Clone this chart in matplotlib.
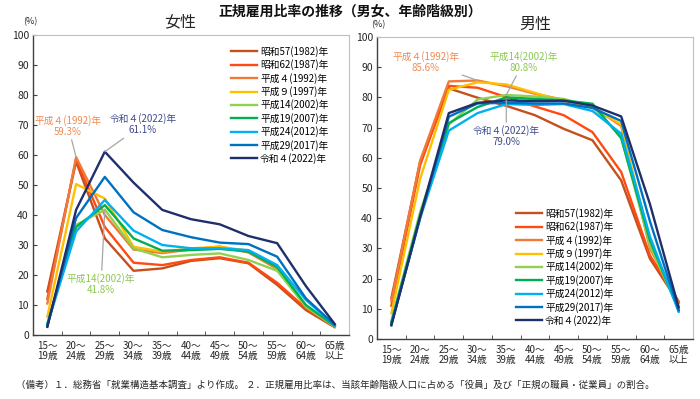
import matplotlib
matplotlib.use("Agg")
import matplotlib.pyplot as plt
import numpy as np

plt.rcParams["font.family"] = ["Noto Sans CJK JP", "DejaVu Sans"]

# ── Data ────────────────────────────────────────────────────────────────────
age_labels = ["15～\n19歳", "20～\n24歳", "25～\n29歳", "30～\n34歳", "35～\n39歳",
              "40～\n44歳", "45～\n49歳", "50～\n54歳", "55～\n59歳", "60～\n64歳",
              "65歳\n以上"]

years = ["昭和57(1982)年", "昭和62(1987)年", "平成４(1992)年", "平成９(1997)年",
         "平成14(2002)年", "平成19(2007)年", "平成24(2012)年", "平成29(2017)年",
         "令和４(2022)年"]

colors = ["#C5501C", "#FF4A12", "#F07A3A", "#FFC000", "#92D050",
          "#00B050", "#00B0F0", "#0070C0", "#1F2F6B"]

women = [
    [14.5, 57.8, 32.2, 21.4, 22.2, 24.7, 25.6, 23.9, 16.7, 8.3, 2.6],   # 1982
    [12.0, 58.6, 36.0, 24.1, 23.3, 25.0, 25.9, 24.1, 17.4, 8.9, 2.8],   # 1987
    [10.5, 59.3, 40.0, 28.5, 27.3, 28.5, 29.5, 27.5, 22.0, 9.5, 3.0],   # 1992
    [6.1, 50.3, 45.5, 29.4, 27.8, 28.9, 29.4, 28.1, 22.5, 9.7, 2.9],    # 1997
    [3.5, 36.7, 41.8, 28.9, 25.9, 26.7, 27.2, 25.0, 21.4, 9.4, 2.8],    # 2002
    [3.8, 36.0, 43.3, 32.2, 28.1, 28.3, 28.7, 27.8, 22.6, 10.0, 3.0],   # 2007
    [3.5, 34.5, 45.0, 34.8, 30.0, 28.9, 28.9, 28.3, 23.3, 11.7, 3.2],   # 2012
    [3.0, 39.0, 52.7, 40.9, 35.0, 32.6, 30.8, 30.3, 26.1, 12.2, 3.4],   # 2017
    [2.7, 41.7, 61.1, 50.8, 41.7, 38.6, 36.9, 33.0, 30.6, 16.3, 3.7],   # 2022
]

men = [
    [13.5, 58.6, 83.0, 79.9, 77.2, 74.1, 69.6, 65.8, 52.5, 26.6, 12.0],  # 1982
    [11.0, 57.5, 83.8, 83.2, 80.1, 77.0, 74.1, 68.5, 55.3, 27.7, 12.5],  # 1987
    [12.5, 59.0, 85.3, 85.6, 83.7, 81.2, 79.2, 77.0, 70.5, 30.0, 12.0],  # 1992
    [8.5, 53.0, 82.5, 85.0, 84.3, 81.5, 78.8, 76.8, 71.0, 32.0, 11.0],   # 1997
    [6.0, 42.0, 71.0, 79.3, 80.8, 80.3, 79.5, 77.0, 66.9, 31.0, 10.0],   # 2002
    [5.5, 41.0, 71.5, 76.8, 80.0, 79.5, 79.0, 77.9, 66.5, 32.7, 9.5],    # 2007
    [5.0, 40.0, 69.0, 74.8, 77.8, 77.5, 77.8, 75.5, 68.0, 34.0, 9.0],    # 2012
    [4.8, 40.0, 73.6, 78.0, 78.2, 78.0, 78.0, 76.5, 72.2, 39.0, 9.5],    # 2017
    [4.5, 40.5, 74.8, 78.2, 79.0, 78.8, 78.9, 77.3, 73.7, 44.7, 10.5],   # 2022
]

TEXT = "#262626"
x = np.arange(len(age_labels))

fig = plt.figure(figsize=(7.0, 3.99), dpi=100)
ax_w = fig.add_axes([33 / 700, 1 - 335 / 399, 316 / 700, 300 / 399])
ax_m = fig.add_axes([377 / 700, 1 - 339 / 399, 316 / 700, 302 / 399])


def style_axis(ax):
    ax.set_xlim(-0.5, len(age_labels) - 0.5)
    ax.set_ylim(0, 100)
    ax.set_yticks(range(0, 101, 10))
    ax.set_xticks(x)
    ax.set_xticklabels(age_labels, fontsize=7, color=TEXT, linespacing=1.0)
    ax.set_xticks(np.arange(0.5, len(age_labels) - 1, 1), minor=True)
    ax.tick_params(axis="x", which="major", length=0, pad=4)
    ax.tick_params(axis="x", which="minor", direction="in", length=3,
                   color="#404040")
    ax.tick_params(axis="y", direction="in", length=3, labelsize=7.5,
                   labelcolor=TEXT, color="#404040", pad=3)
    for side in ("left", "bottom"):
        ax.spines[side].set_color("#404040")
        ax.spines[side].set_linewidth(1.0)
    for side in ("top", "right"):
        ax.spines[side].set_color("#BFBFBF")
        ax.spines[side].set_linewidth(0.8)


for ax, data in ((ax_w, women), (ax_m, men)):
    for label, vals, c in zip(years, data, colors):
        ax.plot(x, vals, color=c, linewidth=1.7, label=label)
    style_axis(ax)

# ── Legends ─────────────────────────────────────────────────────────────────
leg_kw = dict(frameon=False, fontsize=7, handlelength=2.7, handletextpad=0.3,
              labelspacing=0.25, borderpad=0, borderaxespad=0, loc="upper left")
ax_w.legend(bbox_to_anchor=(231 / 700, 1 - 46 / 399),
            bbox_transform=fig.transFigure, **leg_kw)
ax_m.legend(bbox_to_anchor=(516 / 700, 1 - 208 / 399),
            bbox_transform=fig.transFigure, **leg_kw)

# ── Annotations ─────────────────────────────────────────────────────────────
GRAY = "#A6A6A6"
ann_kw = dict(ha="center", va="center", fontsize=7, linespacing=1.15,
              arrowprops=dict(arrowstyle="-", color=GRAY, lw=0.9,
                              shrinkA=0, shrinkB=0))

ax_w.annotate(f"平成４(1992)年\n{women[2][1]}%", xy=(1, women[2][1]),
              xytext=(0.72, 69.7), color="#F08A50", **ann_kw)
ax_w.annotate(f"令和４(2022)年\n{women[8][2]}%", xy=(2, women[8][2]),
              xytext=(3.33, 70.2), color="#3E4A8A", **ann_kw)
ax_w.annotate(f"平成14(2002)年\n{women[4][2]}%", xy=(2, women[4][2]),
              xytext=(1.87, 17.0), color="#8CC850", **ann_kw)

ax_m.annotate(f"平成４(1992)年\n{men[2][3]}%", xy=(3, men[2][3]),
              xytext=(1.2, 91.7), color="#F08A50", **ann_kw)
ax_m.annotate(f"平成14(2002)年\n{men[4][4]}%", xy=(4, men[4][4]),
              xytext=(4.6, 91.7), color="#8CC850", **ann_kw)
ax_m.annotate(f"令和４(2022)年\n{men[8][4]}%", xy=(4, men[8][4]),
              xytext=(4.0, 67.2), color="#3E4A8A", **ann_kw)

# ── Titles and notes ────────────────────────────────────────────────────────
fig.text(0.5, 1 - 12 / 399, "正規雇用比率の推移（男女、年齢階級別）",
         ha="center", va="center", fontsize=10, fontweight="bold", color="#111111")
fig.text(180 / 700, 1 - 22 / 399, "女性", ha="center", va="center",
         fontsize=11.5, color=TEXT)
fig.text(535 / 700, 1 - 24 / 399, "男性", ha="center", va="center",
         fontsize=11.5, color=TEXT)
fig.text(30 / 700, 1 - 22 / 399, "(%)", ha="center", va="center",
         fontsize=6.5, color=TEXT)
fig.text(378 / 700, 1 - 25 / 399, "(%)", ha="center", va="center",
         fontsize=6.5, color=TEXT)
fig.text(16 / 700, 1 - 385 / 399,
         "（備考）１．総務省「就業構造基本調査」より作成。 ２．正規雇用比率は、"
         "当該年齢階級人口に占める「役員」及び「正規の職員・従業員」の割合。",
         ha="left", va="center", fontsize=6.8, color=TEXT)

fig.savefig("out.png", dpi=100, facecolor="white")
plt.close(fig)
